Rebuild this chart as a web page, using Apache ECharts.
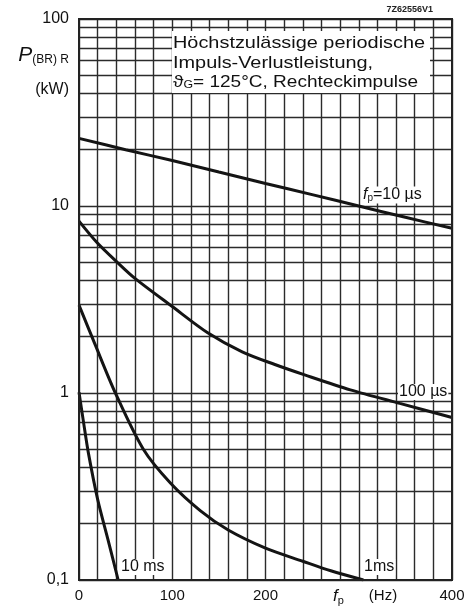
<!DOCTYPE html>
<html><head><meta charset="utf-8">
<script src="https://cdn.jsdelivr.net/npm/echarts@6/dist/echarts.min.js"></script>
<style>html,body{margin:0;padding:0;background:#fff}#c{width:472px;height:609px}</style>
</head><body><div id="c"></div>
<script>
// --- data ---
const f10us  = [0, 50, 100, 150, 200, 250, 300, 350, 400];
const p10us  = [23, 20, 17.5, 15.2, 13.2, 11.5, 10, 8.7, 7.6];
const f100us = [0, 19, 41, 60, 100, 138, 175, 210, 242, 291, 344, 400];
const p100us = [8.3, 6.4, 5.0, 4.1, 2.9, 2.1, 1.66, 1.42, 1.25, 1.04, 0.88, 0.74];
const f1ms   = [0, 17, 39, 69, 98, 130, 160, 200, 240, 270, 305];
const p1ms   = [2.95, 1.83, 1.0, 0.5, 0.33, 0.235, 0.185, 0.148, 0.126, 0.112, 0.1];
const f10ms  = [0, 5, 10, 20, 31, 42];
const p10ms  = [1.01, 0.69, 0.48, 0.27, 0.165, 0.1];
const xTickLabels = {0: '0', 100: '100', 200: '200', 400: '400'};
const yTickLabels = ['0,1', '1', '10', '100'];
const decades = [0.1, 1, 10];
const minorMultipliers = [2, 3, 4, 5, 6, 7, 8, 9];

const pairs = (xs, ys) => xs.map((x, i) => [x, ys[i]]);
const minorLines = [];
decades.forEach(d => minorMultipliers.forEach(m => minorLines.push({yAxis: +(d * m).toPrecision(3)})));

const gridColor = '#2b2b2b';
const curveStyle = {color: '#141414', width: 3};
const font = 'Liberation Sans, Arial, sans-serif';

const chart = echarts.init(document.getElementById('c'), null, {renderer: 'canvas'});
const mk = (name, xs, ys, extra) => Object.assign({
  name, type: 'line', data: pairs(xs, ys), smooth: 0.3, showSymbol: false, symbol: 'none',
  lineStyle: curveStyle, silent: true, z: 5, clip: true
}, extra || {});

chart.setOption({
  animation: false,
  backgroundColor: '#fff',
  grid: {left: 79, right: 20, top: 19, bottom: 29, show: false},
  xAxis: {
    type: 'value', min: 0, max: 400, interval: 20,
    axisLine: {show: true, onZero: false, lineStyle: {color: '#222', width: 2}},
    axisTick: {show: false},
    splitLine: {show: true, lineStyle: {color: gridColor, width: 1.4}},
    axisLabel: {color: '#111', fontSize: 15, fontFamily: font, margin: 8,
      formatter: v => (xTickLabels[v] !== undefined ? xTickLabels[v] : '')}
  },
  yAxis: {
    type: 'log', logBase: 10, min: 0.1, max: 100,
    axisLine: {show: true, lineStyle: {color: '#222', width: 2}},
    axisTick: {show: false},
    splitLine: {show: true, lineStyle: {color: gridColor, width: 1.4}},
    axisLabel: {color: '#111', fontSize: 16, fontFamily: font, margin: 10,
      formatter: v => yTickLabels[Math.round(Math.log10(v)) + 1] || ''}
  },
  series: [
    mk('10us', f10us, p10us, {
      markLine: {silent: true, symbol: ['none', 'none'], label: {show: false},
        lineStyle: {color: gridColor, width: 1.4, type: 'solid'}, data: minorLines, z: 1}
    }),
    mk('100us', f100us, p100us),
    mk('1ms', f1ms, p1ms),
    mk('10ms', f10ms, p10ms)
  ],
  graphic: [
    {type: 'rect', shape: {x: 79, y: 19, width: 373, height: 561}, style: {fill: null, stroke: '#222', lineWidth: 2}, z: 50, silent: true},
    {type: 'rect', shape: {x: 172, y: 31, width: 258, height: 62}, style: {fill: '#fff'}, z: 60, silent: true},
    {type: 'text', x: 173, y: 43, scaleX: 1.17, z: 61, style: {text: 'Höchstzulässige periodische', font: '17px ' + font, fill: '#111', verticalAlign: 'middle'}},
    {type: 'text', x: 173, y: 63, scaleX: 1.17, z: 61, style: {text: 'Impuls-Verlustleistung,', font: '17px ' + font, fill: '#111', verticalAlign: 'middle'}},
    {type: 'text', x: 173, y: 82, scaleX: 1.12, z: 61, style: {
      text: '{a|ϑ}{s|G}{a|= 125°C, Rechteckimpulse}', verticalAlign: 'middle', fill: '#111',
      rich: {a: {fontSize: 17, fontFamily: font, fill: '#111'}, s: {fontSize: 11, fontFamily: font, fill: '#111', verticalAlign: 'bottom', padding: [6, 0, 0, 0]}}}},
    {type: 'text', x: 433, y: 10, z: 61, style: {text: '7Z62556V1', font: 'bold 9px ' + font, fill: '#222', align: 'right', verticalAlign: 'middle'}},
    {type: 'text', x: 69, y: 55, z: 61, style: {
      text: '{p|P}{s|(BR) R}', align: 'right', verticalAlign: 'middle',
      rich: {p: {fontSize: 21, fontStyle: 'italic', fontFamily: font, fill: '#111'}, s: {fontSize: 12, fontFamily: font, fill: '#111', padding: [9, 0, 0, 0]}}}},
    {type: 'text', x: 69, y: 90, z: 61, style: {text: '(kW)', font: '16px ' + font, fill: '#111', align: 'right', verticalAlign: 'middle'}},
    {type: 'text', x: 333, y: 596, z: 61, style: {
      text: '{f|f}{s|p}', verticalAlign: 'middle',
      rich: {f: {fontSize: 17, fontStyle: 'italic', fontFamily: font, fill: '#111'}, s: {fontSize: 11, fontFamily: font, fill: '#111', padding: [9, 0, 0, 0]}}}},
    {type: 'text', x: 383, y: 596, z: 61, style: {text: '(Hz)', font: '15px ' + font, fill: '#111', align: 'center', verticalAlign: 'middle'}},
    {type: 'text', x: 362, y: 195, z: 61, style: {
      text: '{f|f}{s|p}{a|=10 µs}', verticalAlign: 'middle', backgroundColor: '#fff', padding: [0, 1, 0, 1],
      rich: {f: {fontSize: 16, fontStyle: 'italic', fontFamily: font, fill: '#111'}, s: {fontSize: 10, fontFamily: font, fill: '#111', padding: [7, 0, 0, 0]}, a: {fontSize: 16, fontFamily: font, fill: '#111'}}}},
    {type: 'text', x: 398, y: 392, z: 61, style: {text: '100 µs', font: '16px ' + font, fill: '#111', verticalAlign: 'middle', backgroundColor: '#fff', padding: [0, 1, 0, 1]}},
    {type: 'text', x: 363, y: 567, z: 61, style: {text: '1ms', font: '16px ' + font, fill: '#111', verticalAlign: 'middle', backgroundColor: '#fff', padding: [0, 1, 0, 1]}},
    {type: 'text', x: 120, y: 567, z: 61, style: {text: '10 ms', font: '16px ' + font, fill: '#111', verticalAlign: 'middle', backgroundColor: '#fff', padding: [0, 1, 0, 1]}}
  ]
});
</script>
</body></html>
